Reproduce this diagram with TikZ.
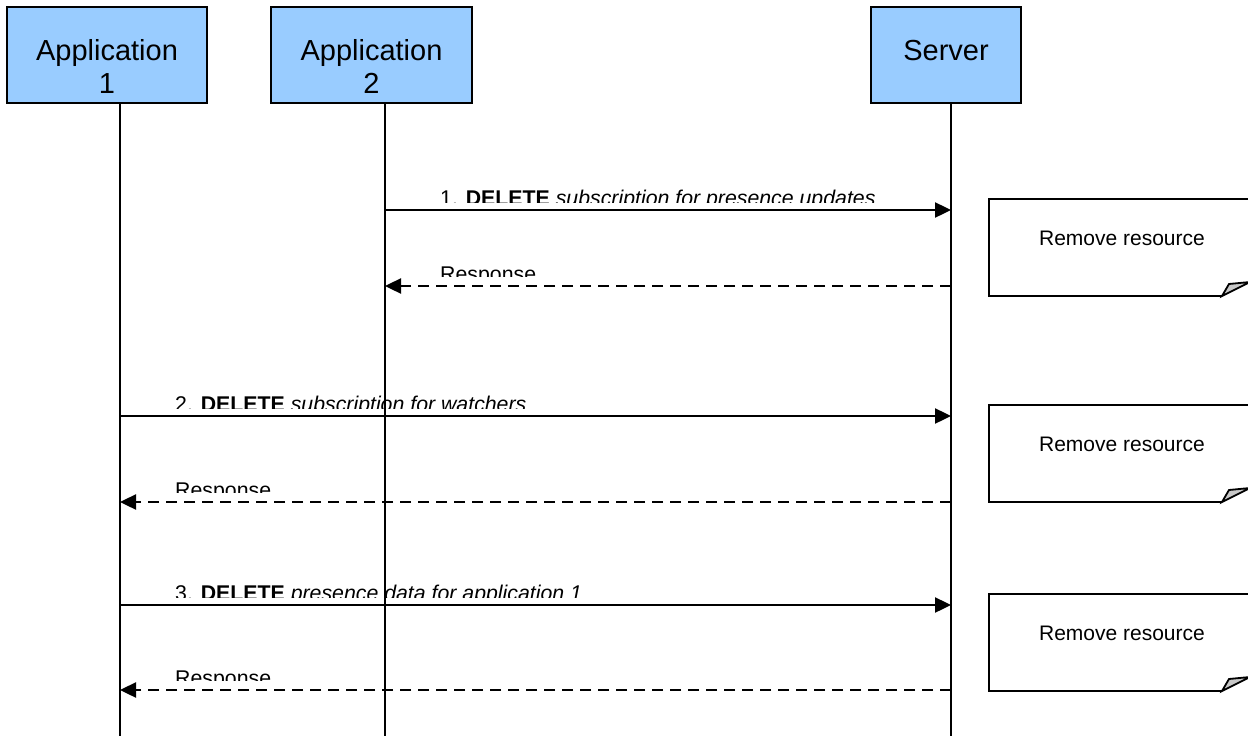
\documentclass[tikz,border=0pt]{standalone}
\usepackage{fontspec}
\setmainfont{Liberation Sans}
\usetikzlibrary{arrows.meta}
\tikzset{
  actor/.style={draw=black, line width=2pt, fill={rgb,255:red,153;green,204;blue,255}, inner sep=0pt},
  boxtext/.style={font=\fontsize{29}{32}\selectfont, anchor=base, inner sep=0pt},
  lifeline/.style={draw=black, line width=2pt},
  msg/.style={draw=black, line width=2.4pt, -{Triangle[length=16pt,width=15pt]}},
  reply/.style={draw=black, line width=2.4pt, dash pattern=on 11pt off 7pt, -{Triangle[length=16pt,width=15pt]}},
  lbl/.style={font=\fontsize{21.3}{24}\selectfont, anchor=base west, inner sep=0pt},
  notetext/.style={font=\fontsize{21}{24}\selectfont, anchor=base, inner sep=0pt},
  notebox/.style={draw=black, line width=2pt},
  fold/.style={draw=black, line width=1.8pt, fill={rgb,255:red,200;green,200;blue,200}, line join=miter}
}
\begin{document}
\begin{tikzpicture}[x=1pt,y=-1pt]
\useasboundingbox (0,0) rectangle (1248,736);
\fill[white] (0,0) rectangle (1248,736);

% actors
\node[actor, minimum width=200pt, minimum height=96pt] (app1) at (107,55) {};
\node[actor, minimum width=201pt, minimum height=96pt] (app2) at (371.5,55) {};
\node[actor, minimum width=150pt, minimum height=96pt] (srv) at (946,55) {};
\node[boxtext] (app1t1) at (107,60) {Application};
\node[boxtext] (app1t2) at (107,93) {1};
\node[boxtext] (app2t1) at (371.5,60) {Application};
\node[boxtext] (app2t2) at (371.5,93) {2};
\node[boxtext] (srvt) at (946,60) {Server};

% lifelines
\coordinate (l1top) at (120,103);
\coordinate (l1bot) at (120,736);
\coordinate (l2top) at (385,103);
\coordinate (l2bot) at (385,736);
\coordinate (lstop) at (951,103);
\coordinate (lsbot) at (951,736);
\draw[lifeline] (l1top) -- (l1bot);
\draw[lifeline] (l2top) -- (l2bot);
\draw[lifeline] (lstop) -- (lsbot);

% message points
\coordinate (a2m1) at (385,210);  \coordinate (sm1) at (951,210);
\coordinate (sr1) at (951,286);   \coordinate (a2r1) at (385,286);
\coordinate (a1m2) at (120,416);  \coordinate (sm2) at (951,416);
\coordinate (sr2) at (951,502);   \coordinate (a1r2) at (120,502);
\coordinate (a1m3) at (120,605);  \coordinate (sm3) at (951,605);
\coordinate (sr3) at (951,690);   \coordinate (a1r3) at (120,690);

\draw[msg] (a2m1) -- (sm1);
\draw[reply] (sr1) -- (a2r1);
\draw[msg] (a1m2) -- (sm2);
\draw[reply] (sr2) -- (a1r2);
\draw[msg] (a1m3) -- (sm3);
\draw[reply] (sr3) -- (a1r3);

% clipped labels
\begin{scope}
\clip (400,150) rectangle (940,202);
\node[lbl] (lab1) at (440,205) {1. \textbf{DELETE} \textit{subscription for presence updates}};
\end{scope}
\begin{scope}
\clip (400,240) rectangle (940,276);
\node[lbl] (lab1r) at (440,281) {Response};
\end{scope}
\begin{scope}
\clip (130,360) rectangle (940,408);
\node[lbl] (lab2) at (175,411) {2. \textbf{DELETE} \textit{subscription for watchers}};
\end{scope}
\begin{scope}
\clip (130,460) rectangle (940,492);
\node[lbl] (lab2r) at (175,497) {Response};
\end{scope}
\begin{scope}
\clip (130,550) rectangle (940,597);
\node[lbl] (lab3) at (175,600) {3. \textbf{DELETE} \textit{presence data for application 1}};
\end{scope}
\begin{scope}
\clip (130,650) rectangle (940,680);
\node[lbl] (lab3r) at (175,685) {Response};
\end{scope}

% notes
\foreach \t/\n in {199/1,405/2,594/3}{
  \pgfmathsetmacro{\b}{\t+97}
  \pgfmathsetmacro{\ty}{\t+46}
  \draw[notebox] (1250,\t) -- (989,\t) -- (989,\b) -- (1222,\b);
  \draw[fold] (1222,\b) -- (1229,\b-12) -- (1250,\b-14) -- cycle;
  \node[notetext] (note\n) at (1122,\ty) {Remove resource};
}
\end{tikzpicture}
\end{document}
